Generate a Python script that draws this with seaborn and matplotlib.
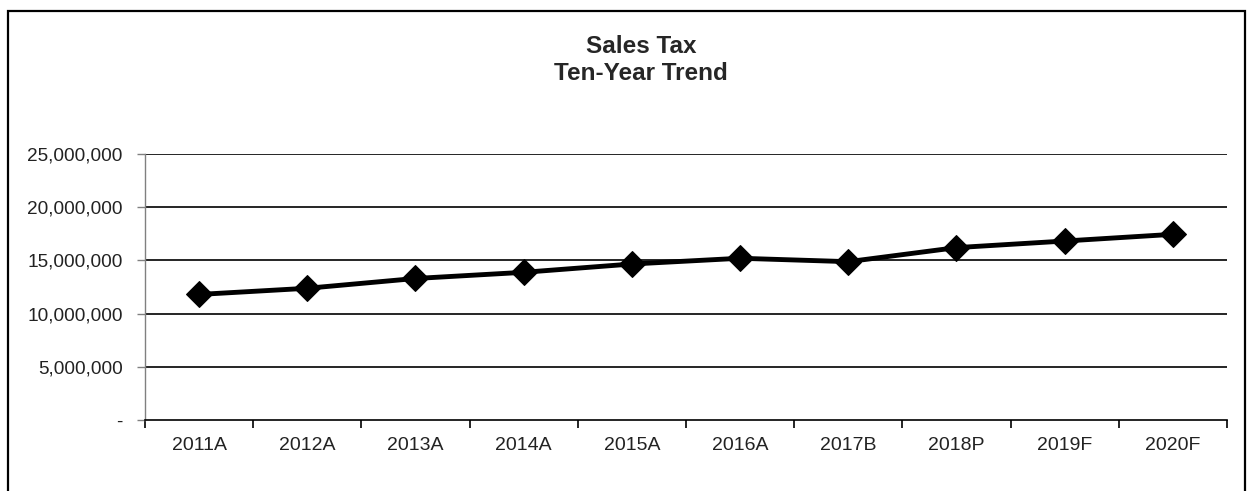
import matplotlib
matplotlib.use('Agg')
import matplotlib.pyplot as plt
import seaborn as sns
import pandas as pd
from matplotlib.ticker import FuncFormatter, FixedLocator

years = ['2011A', '2012A', '2013A', '2014A', '2015A',
         '2016A', '2017B', '2018P', '2019F', '2020F']
sales_tax = [11.80e6, 12.38e6, 13.30e6, 13.88e6, 14.66e6,
             15.20e6, 14.88e6, 16.20e6, 16.82e6, 17.45e6]
y_ticks = [0, 5e6, 10e6, 15e6, 20e6, 25e6]

df = pd.DataFrame({'year': years, 'value': sales_tax})

sns.set_theme(style='white')
plt.rcParams['font.family'] = ['Liberation Sans', 'DejaVu Sans']

fig = plt.figure(figsize=(12.52, 4.91), dpi=100)
ax = fig.add_axes([0.1158, 0.1446, 0.980 - 0.1158, 0.6864 - 0.1446])

sns.lineplot(data=df, x='year', y='value', ax=ax, color='black',
             linewidth=3.5, marker='D', markersize=13,
             markeredgecolor='black', markerfacecolor='black', sort=False)

ax.set_xlim(-0.5, len(years) - 0.5)
ax.set_ylim(0, 25e6)
ax.set_yticks(y_ticks)
ax.yaxis.set_major_formatter(FuncFormatter(lambda v, p: '-' if v == 0 else f'{v:,.0f}'))
for y in y_ticks[1:]:
    ax.axhline(y, color='black', linewidth=1.2, zorder=0)

# labels at centers without ticks, ticks at category boundaries
ax.set_xticks(range(len(years)))
ax.set_xticklabels(years)
ax.xaxis.set_minor_locator(FixedLocator([i - 0.5 for i in range(len(years) + 1)]))
ax.tick_params(axis='x', which='major', length=0, labelsize=14, pad=12, colors='#222222')
ax.tick_params(axis='x', which='minor', bottom=True, length=6, width=1.2, color='black')
ax.tick_params(axis='y', which='major', left=True, length=6, width=1, color='#808080',
               labelsize=13.7, pad=10, labelcolor='#222222')

for s in ['top', 'right']:
    ax.spines[s].set_visible(False)
ax.spines['left'].set_color('#808080')
ax.spines['left'].set_linewidth(1)
ax.spines['bottom'].set_color('black')
ax.spines['bottom'].set_linewidth(1.2)
ax.set_xlabel('')
ax.set_ylabel('')

fig.text(0.512, 0.877, 'Sales Tax\nTen-Year Trend', ha='center', va='center',
         fontsize=17.5, fontweight='bold', linespacing=1.22)

border = plt.Rectangle((0.0064, -0.1), 0.9944 - 0.0064, 0.9776 + 0.1,
                       transform=fig.transFigure, fill=False,
                       edgecolor='black', linewidth=1.6)
fig.patches.append(border)

fig.savefig('out.png', dpi=100)
